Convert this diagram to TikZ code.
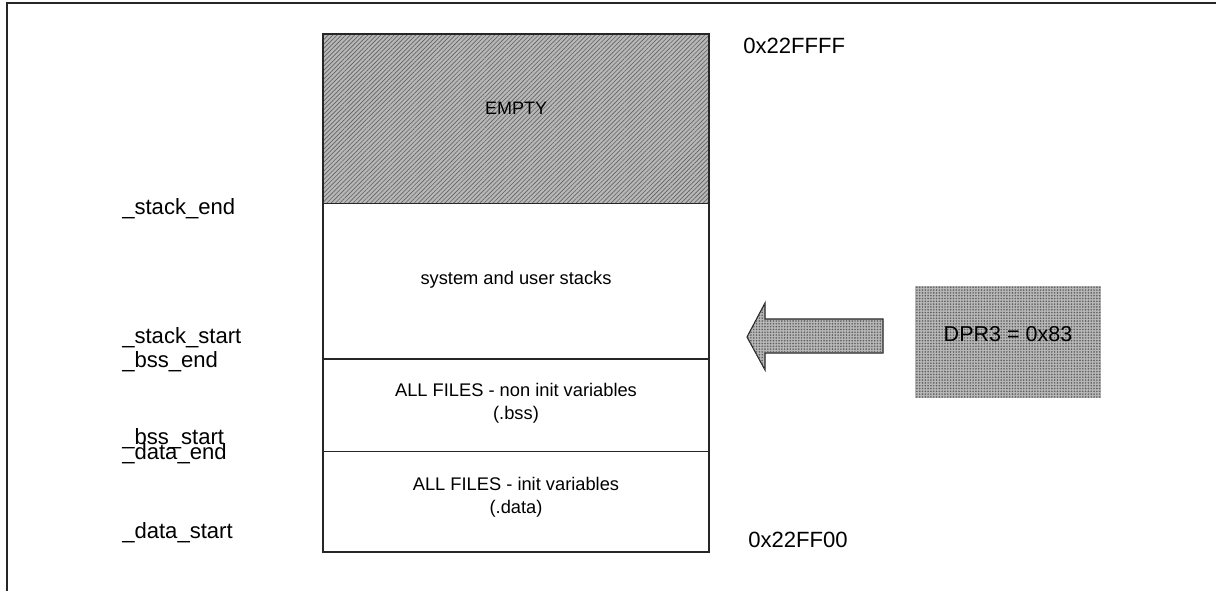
\documentclass[tikz,border=0pt]{standalone}
\usepackage{fontspec}
\setmainfont{Liberation Sans}
\usetikzlibrary{patterns.meta}
\colorlet{frameGray}{black!85}
\colorlet{shadeGray}{black!28}
\colorlet{dotGray}{black!62}

\begin{document}
\begin{tikzpicture}[x=0.025cm, y=-0.025cm,
    symlabel/.style={anchor=west, inner sep=0pt, font=\fontsize{15.7}{18}\selectfont},
    boxtext/.style={align=center, inner sep=0pt, font=\fontsize{13}{16.5}\selectfont},
    hatched/.style={fill=shadeGray, postaction={pattern={Lines[angle=45,distance=2.2pt,line width=.5pt]}, pattern color=dotGray}},
    checkered/.style={fill=shadeGray, postaction={pattern={Dots[distance=2pt,radius=.65pt]}, pattern color=dotGray}},
  ]
  \useasboundingbox (0,0) rectangle (1216,591);
  \draw[line width=1.8pt, frameGray] (7,591) -- (7,3) -- (1216,3);

  % memory regions
  \fill[hatched] (323,34) rectangle (709,203);
  \draw[line width=.6pt, frameGray] (323,203) -- (709,203);
  \draw[line width=1.2pt, frameGray] (323,359) -- (709,359);
  \draw[line width=.6pt, frameGray] (323,451) -- (709,451);
  \draw[line width=1.2pt, frameGray] (323,34) rectangle (709,552);

  \node (empty) [boxtext, font=\fontsize{12.8}{15}\selectfont] at (516,108) {EMPTY};
  \node (stacks) [boxtext] at (516,280) {system and user stacks};
  \node (bss) [boxtext] at (516,403) {ALL FILES - non init variables\\(.bss)};
  \node (data) [boxtext] at (516,497) {ALL FILES - init variables\\(.data)};

  % symbols
  \node (stackend) [symlabel] at (122,209) {\_stack\_end};
  \node (stackstart) [symlabel] at (122,338) {\_stack\_start};
  \node (bssend) [symlabel] at (122,362) {\_bss\_end};
  \node (bssstart) [symlabel] at (122,439) {\_bss\_start};
  \node (dataend) [symlabel] at (122,454) {\_data\_end};
  \node (datastart) [symlabel] at (122,533) {\_data\_start};

  % addresses
  \node (top) [symlabel] at (743,46) {0x22FFFF};
  \node (bottom) [symlabel] at (748,540) {0x22FF00};

  % page register
  \fill[checkered] (915,286) rectangle (1101,398);
  \node (dpr) [boxtext, font=\fontsize{15.3}{18}\selectfont] at (1008,334) {DPR3 = 0x83};
  \draw[checkered, draw=frameGray, line width=.8pt]
    (747,337) -- (765,303) -- (765,319) -- (883,319)
    -- (883,353) -- (765,353) -- (765,370) -- cycle;
\end{tikzpicture}
\end{document}
